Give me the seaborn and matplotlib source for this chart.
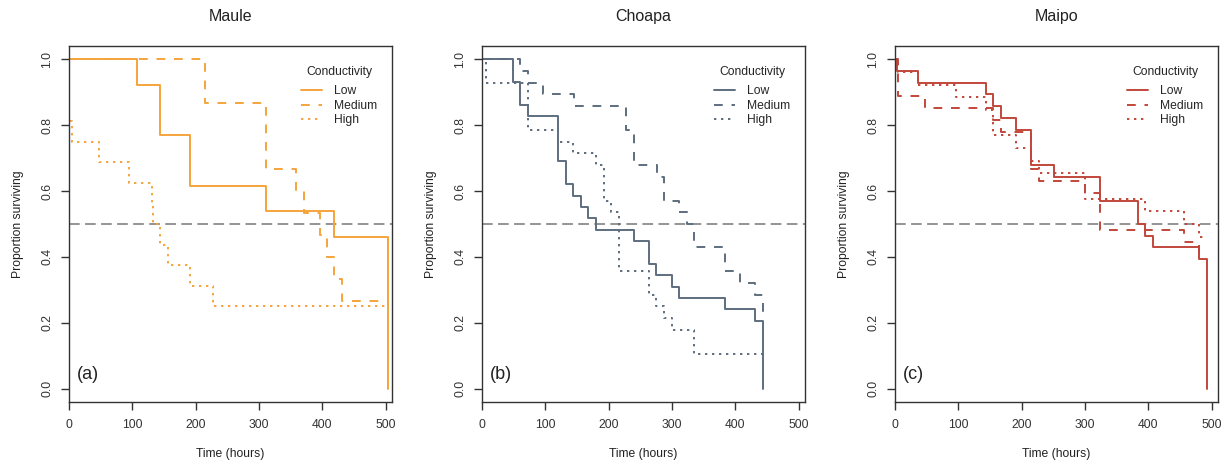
import pandas as pd
import matplotlib.pyplot as plt
import seaborn as sns

# --- DATA (Kaplan-Meier style survival curves) ---
levels = ['Low', 'Medium', 'High']
rivers = ['Maule', 'Choapa', 'Maipo']
panel_tags = ['(a)', '(b)', '(c)']

maule_low_t = [0, 108, 144, 191.5, 311, 419, 503]
maule_low_s = [1.0, 0.923, 0.769, 0.615, 0.538, 0.462, 0.0]
maule_med_t = [0, 215, 311, 359, 371, 395.6, 407, 419, 431, 503]
maule_med_s = [1.0, 0.867, 0.667, 0.600, 0.533, 0.467, 0.400, 0.333, 0.267, 0.267]
maule_high_t = [0, 0.5, 4.7, 47.5, 95.5, 131, 133, 144, 156, 191.5, 227, 503]
maule_high_s = [1.0, 0.8125, 0.75, 0.6875, 0.625, 0.5625, 0.5, 0.4375, 0.375, 0.3125, 0.25, 0.25]

choapa_low_t = [0, 48.5, 60, 72.8, 119.7, 131.9, 144, 156, 167.7, 180, 239.5, 263.7, 275, 300, 311.7, 383.4, 431, 443.5]
choapa_low_s = [1.0, 0.931, 0.862, 0.828, 0.690, 0.621, 0.586, 0.552, 0.517, 0.483, 0.448, 0.379, 0.345,
                0.310, 0.276, 0.241, 0.207, 0.0]
choapa_med_t = [0, 60, 72.8, 97, 144.5, 228, 240, 276, 288, 311.7, 324, 335.4, 383.4, 407.6, 431, 443.5]
choapa_med_s = [1.0, 0.964, 0.929, 0.893, 0.857, 0.786, 0.679, 0.643, 0.571, 0.536, 0.500, 0.429, 0.357,
                0.321, 0.286, 0.214]
choapa_high_t = [0, 6.3, 72.8, 119.7, 144, 180, 192, 204, 215.7, 263.7, 275, 288, 300, 335.4, 443.5]
choapa_high_s = [1.0, 0.929, 0.786, 0.750, 0.714, 0.679, 0.571, 0.536, 0.357, 0.286, 0.250, 0.214, 0.179,
                 0.107, 0.107]

maipo_low_t = [0, 2.6, 36, 143.6, 155, 167, 191.7, 215.4, 251.8, 323.7, 383.8, 395.5, 407.6, 479.4, 492]
maipo_low_s = [1.0, 0.964, 0.929, 0.893, 0.857, 0.821, 0.786, 0.679, 0.643, 0.571, 0.500, 0.464, 0.429,
               0.393, 0.0]
maipo_med_t = [0, 5.3, 47.5, 155, 167, 215.4, 227.6, 300, 323.7, 455.7, 479.4, 491]
maipo_med_s = [1.0, 0.889, 0.852, 0.815, 0.778, 0.667, 0.630, 0.593, 0.481, 0.444, 0.407, 0.407]
maipo_high_t = [0, 5, 36, 96, 143.6, 155, 191.7, 215.4, 227.6, 300, 395.5, 455.7, 479.4, 491]
maipo_high_s = [1.0, 0.962, 0.923, 0.885, 0.846, 0.769, 0.731, 0.692, 0.654, 0.577, 0.538, 0.500, 0.462, 0.462]

RIVER_COLORS = {'Maule': '#F5A43C', 'Choapa': '#5E6E7E', 'Maipo': '#C0473A'}

curves = {
    'Maule': [(maule_low_t, maule_low_s), (maule_med_t, maule_med_s), (maule_high_t, maule_high_s)],
    'Choapa': [(choapa_low_t, choapa_low_s), (choapa_med_t, choapa_med_s), (choapa_high_t, choapa_high_s)],
    'Maipo': [(maipo_low_t, maipo_low_s), (maipo_med_t, maipo_med_s), (maipo_high_t, maipo_high_s)],
}

rows = []
for river in rivers:
    for lvl, (t, s) in zip(levels, curves[river]):
        for ti, si in zip(t, s):
            rows.append({'River': river, 'Conductivity': lvl, 'Time': ti, 'Surv': si})
df = pd.DataFrame(rows)

# --- STYLE ---
sns.set_theme(style="ticks")
plt.rcParams['font.family'] = ['Liberation Sans', 'DejaVu Sans']
plt.rcParams.update({'axes.edgecolor': '#333333', 'axes.linewidth': 1.0,
                     'xtick.color': '#333333', 'ytick.color': '#333333',
                     'xtick.major.size': 5.5, 'ytick.major.size': 5.5,
                     'xtick.major.width': 1.0, 'ytick.major.width': 1.0})

DASHES = {'Low': '', 'Medium': (4.5, 4.5), 'High': (1.2, 2.4)}

fig = plt.figure(figsize=(12.31, 4.63), dpi=100)
lefts = [69 / 1231, 482 / 1231, 895 / 1231]
for i, river in enumerate(rivers):
    ax = fig.add_axes([lefts[i], 61 / 463, 323 / 1231, 356 / 463])
    sub = df[df['River'] == river]
    col = RIVER_COLORS[river]
    sns.lineplot(data=sub, x='Time', y='Surv', hue='Conductivity', style='Conductivity',
                 hue_order=levels, style_order=levels, palette={l: col for l in levels},
                 dashes=DASHES, estimator=None, drawstyle='steps-post', linewidth=1.4, ax=ax)
    ax.axhline(0.5, color='#777777', linewidth=1.1, dashes=(7, 3.5), zorder=1)

    ax.set_xlim(0, 510)
    ax.set_ylim(-0.04, 1.04)
    ax.set_xticks([0, 100, 200, 300, 400, 500])
    ax.set_yticks([0.0, 0.2, 0.4, 0.6, 0.8, 1.0])
    ax.set_yticklabels(['0.0', '0.2', '0.4', '0.6', '0.8', '1.0'], rotation=90, va='center')
    ax.tick_params(axis='both', labelsize=8.7, colors='#333333', pad=6)
    ax.tick_params(axis='x', pad=7)
    for sp in ax.spines.values():
        sp.set_visible(True)

    ax.set_title(river, fontsize=11.5, pad=18, color='#222222')
    ax.set_xlabel('Time (hours)', fontsize=8.7, labelpad=12, color='#222222')
    ax.set_ylabel('Proportion surviving', fontsize=8.7, labelpad=12, color='#222222')
    ax.text(0.025, 0.076, panel_tags[i], transform=ax.transAxes, fontsize=13,
            ha='left', va='center', color='#222222')

    h, l = ax.get_legend_handles_labels()
    leg = ax.legend(h, l, title='Conductivity', loc='upper left', bbox_to_anchor=(0.702, 0.958),
                    frameon=False, fontsize=8.7, title_fontsize=8.7, handlelength=1.8,
                    handletextpad=1.0, labelspacing=0.2, borderaxespad=0)
    leg._legend_box.sep = 5.5  # a bit more room under the legend title

plt.savefig('out.png', dpi=100)
plt.close()
